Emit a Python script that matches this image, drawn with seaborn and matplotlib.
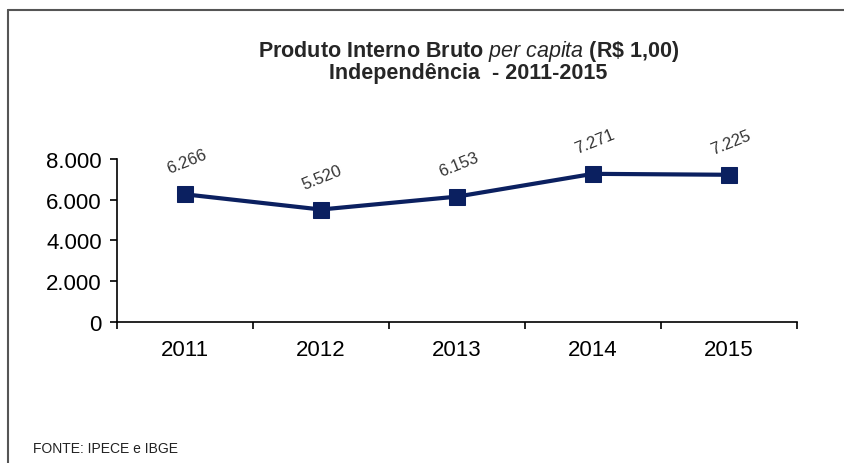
import matplotlib
matplotlib.use("Agg")
import matplotlib.pyplot as plt
from matplotlib.lines import Line2D
from matplotlib.ticker import FixedLocator
import seaborn as sns
import pandas as pd

# data
years = ["2011", "2012", "2013", "2014", "2015"]
pib_per_capita = [6266, 5520, 6153, 7271, 7225]
value_labels = ["6.266", "5.520", "6.153", "7.271", "7.225"]
y_ticks = [0, 2000, 4000, 6000, 8000]
y_tick_labels = ["0", "2.000", "4.000", "6.000", "8.000"]

df = pd.DataFrame({"ano": years, "pib": pib_per_capita})

sns.set_style("white")
plt.rcParams["font.family"] = ["Liberation Sans", "DejaVu Sans"]
plt.rcParams["mathtext.fontset"] = "custom"
plt.rcParams["mathtext.it"] = "Liberation Sans:italic"
plt.rcParams["mathtext.rm"] = "Liberation Sans:bold"

navy = "#0b2060"

fig = plt.figure(figsize=(8.44, 4.64), dpi=100)
ax = fig.add_axes([0.1386, 0.3039, 0.8057, 0.3513])

sns.lineplot(data=df, x="ano", y="pib", ax=ax, color=navy, linewidth=3,
             marker="s", markersize=11, markeredgecolor=navy, sort=False)

# rotated value labels above each point
for i, (v, lab) in enumerate(zip(pib_per_capita, value_labels)):
    ax.annotate(lab, (i, v), xytext=(1, 13), textcoords="offset points",
                ha="center", va="bottom", rotation=22, fontsize=12,
                color="#333333")

ax.set_xlim(-0.5, len(years) - 0.5)
ax.set_ylim(0, 8000)
ax.set_yticks(y_ticks)
ax.set_yticklabels(y_tick_labels)
ax.set_xticks(range(len(years)))
ax.set_xticklabels(years)
ax.xaxis.set_minor_locator(FixedLocator([i - 0.5 for i in range(len(years) + 1)]))
ax.tick_params(axis="x", which="major", length=0, labelsize=16, pad=12,
               colors="black")
ax.tick_params(axis="x", which="minor", length=5, width=1.2, direction="out",
               color="black", bottom=True)
ax.tick_params(axis="y", length=5, width=1.2, direction="out", labelsize=16,
               left=True, colors="black", pad=6)
ax.set_xlabel("")
ax.set_ylabel("")
sns.despine(ax=ax, top=True, right=True)
for s in ["left", "bottom"]:
    ax.spines[s].set_color("black")
    ax.spines[s].set_linewidth(1.2)

fig.text(0.555, 0.890,
         r"Produto Interno Bruto $\mathit{per\ capita}$ (R\$ 1,00)",
         ha="center", va="center", fontsize=15.5, fontweight="bold")
fig.text(0.555, 0.841, "Independência  - 2011-2015",
         ha="center", va="center", fontsize=15.5, fontweight="bold")
fig.text(0.039, 0.032, "FONTE: IPECE e IBGE", ha="left", va="center",
         fontsize=10, color="#222222")

# frame around the figure (top and left edges)
fig.add_artist(Line2D([8 / 844, 1], [1 - 11 / 464, 1 - 11 / 464],
                      transform=fig.transFigure, color="#555555", lw=1.5))
fig.add_artist(Line2D([8 / 844, 8 / 844], [1 - 11 / 464, 0],
                      transform=fig.transFigure, color="#555555", lw=1.5))

fig.savefig("out.png", dpi=100)
